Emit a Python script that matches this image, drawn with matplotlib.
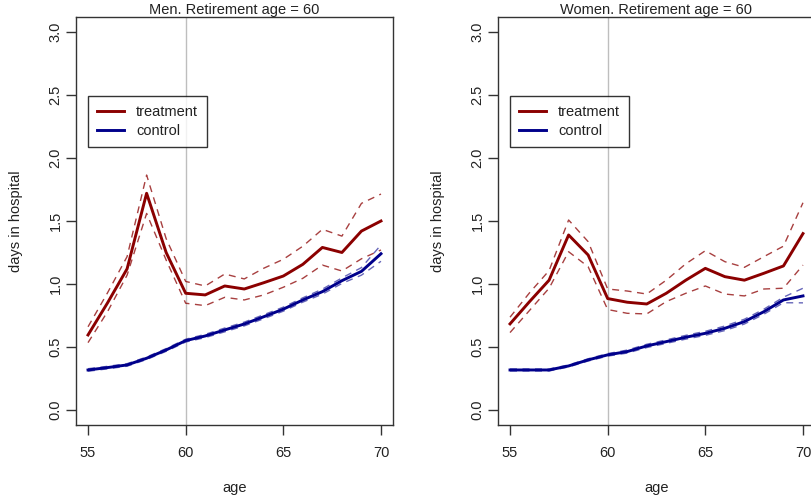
import numpy as np
import matplotlib.pyplot as plt

plt.rcParams['font.family'] = ['Liberation Sans', 'DejaVu Sans']

edad = np.arange(55, 71)

# hombres
h_trat = [0.595, 0.85, 1.12, 1.72, 1.25, 0.926, 0.913, 0.984, 0.96, 1.01,
          1.063, 1.156, 1.29, 1.25, 1.42, 1.50]
h_trat_sup = [0.66, 0.93, 1.217, 1.865, 1.36, 1.02, 0.984, 1.079, 1.04, 1.125,
              1.196, 1.30, 1.434, 1.38, 1.64, 1.714]
h_trat_inf = [0.534, 0.78, 1.07, 1.56, 1.19, 0.847, 0.828, 0.894, 0.873, 0.913,
              0.974, 1.045, 1.15, 1.103, 1.20, 1.27]
h_ctrl = [0.317, 0.336, 0.357, 0.41, 0.476, 0.55, 0.587, 0.635, 0.682, 0.74,
          0.80, 0.873, 0.939, 1.026, 1.10, 1.24]
h_ctrl_sup = [0.327, 0.346, 0.367, 0.42, 0.487, 0.561, 0.6, 0.65, 0.697, 0.756,
              0.816, 0.89, 0.959, 1.048, 1.13, 1.31]
h_ctrl_inf = [0.307, 0.326, 0.347, 0.40, 0.465, 0.539, 0.574, 0.62, 0.667, 0.724,
              0.784, 0.856, 0.919, 1.004, 1.07, 1.18]

# mujeres
m_trat = [0.683, 0.86, 1.03, 1.389, 1.23, 0.884, 0.855, 0.841, 0.926, 1.03,
          1.124, 1.058, 1.03, 1.085, 1.143, 1.40]
m_trat_sup = [0.736, 0.93, 1.106, 1.508, 1.336, 0.96, 0.944, 0.92, 1.03, 1.16,
              1.264, 1.177, 1.132, 1.217, 1.30, 1.645]
m_trat_inf = [0.614, 0.79, 0.966, 1.256, 1.137, 0.797, 0.767, 0.762, 0.86, 0.926,
              0.984, 0.92, 0.905, 0.96, 0.966, 1.15]
m_ctrl = [0.317, 0.317, 0.317, 0.349, 0.397, 0.437, 0.463, 0.508, 0.542, 0.577,
          0.608, 0.648, 0.701, 0.78, 0.873, 0.905]
m_ctrl_sup = [0.325, 0.325, 0.325, 0.357, 0.406, 0.447, 0.475, 0.521, 0.556, 0.592,
              0.624, 0.666, 0.72, 0.80, 0.895, 0.966]
m_ctrl_inf = [0.309, 0.309, 0.309, 0.341, 0.388, 0.427, 0.451, 0.495, 0.528, 0.562,
              0.592, 0.63, 0.682, 0.76, 0.851, 0.85]

rojo = '#8B0000'
azul = '#00008B'
fs = 10.5

fig = plt.figure(figsize=(8.11, 4.98), dpi=100)
W, H = 811., 498.
ax1 = fig.add_axes([76.3/W, (H-425)/H, 316.4/W, 408/H])
ax2 = fig.add_axes([498.3/W, (H-425)/H, 316.4/W, 408/H])


def panel(ax, titulo, trat, trat_sup, trat_inf, ctrl, ctrl_sup, ctrl_inf):
    ax.axvline(60, color='#BEBEBE', lw=1, zorder=1)
    ax.plot(edad, trat, color=rojo, lw=2.1, label='treatment')
    ax.plot(edad, trat_sup, color=rojo, lw=1, alpha=0.75, dashes=(5, 4))
    ax.plot(edad, trat_inf, color=rojo, lw=1, alpha=0.75, dashes=(5, 4))
    ax.plot(edad, ctrl, color=azul, lw=2.1, label='control')
    ax.plot(edad, ctrl_sup, color=azul, lw=1, alpha=0.6, dashes=(5, 4))
    ax.plot(edad, ctrl_inf, color=azul, lw=1, alpha=0.6, dashes=(5, 4))
    ax.set_xlim(54.4, 70.6)
    ax.set_ylim(-0.12, 3.12)
    ax.set_xticks([55, 60, 65, 70])
    ax.set_yticks([0.0, 0.5, 1.0, 1.5, 2.0, 2.5, 3.0])
    ax.set_yticklabels(['0.0', '0.5', '1.0', '1.5', '2.0', '2.5', '3.0'],
                       rotation=90, va='center')
    ax.tick_params(length=7, width=1, color='#333333', labelsize=fs,
                   labelcolor='#222222')
    ax.tick_params(axis='x', pad=8)
    ax.tick_params(axis='y', pad=3)
    for s in ax.spines.values():
        s.set_color('#333333')
        s.set_linewidth(1)
    ax.set_title(titulo, fontsize=fs, color='#222222', pad=2)
    ax.set_xlabel('age', fontsize=fs, color='#222222', labelpad=15)
    ax.set_ylabel('days in hospital', fontsize=fs, color='#222222', labelpad=18)
    leg = ax.legend(loc='upper left', bbox_to_anchor=(0.037, 0.806),
                    borderaxespad=0, fontsize=fs, fancybox=False,
                    edgecolor='black', handlelength=1.9, handletextpad=0.8,
                    borderpad=0.6, labelspacing=0.35)
    leg.get_frame().set_linewidth(1)
    for t in leg.get_texts():
        t.set_color('#222222')


panel(ax1, 'Men. Retirement age = 60', h_trat, h_trat_sup, h_trat_inf,
      h_ctrl, h_ctrl_sup, h_ctrl_inf)
panel(ax2, 'Women. Retirement age = 60', m_trat, m_trat_sup, m_trat_inf,
      m_ctrl, m_ctrl_sup, m_ctrl_inf)

plt.savefig('out.png', dpi=100)
